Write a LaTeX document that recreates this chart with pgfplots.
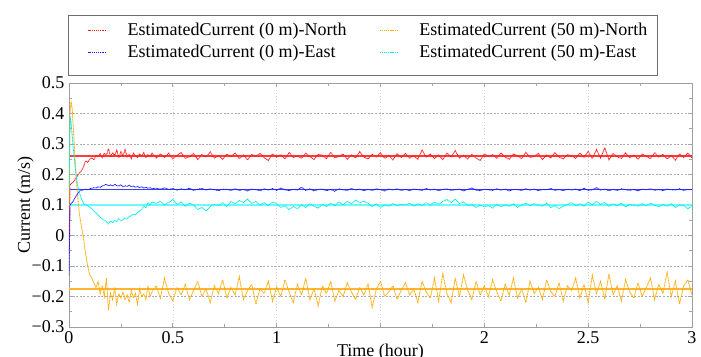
\documentclass[border=0pt]{standalone}
\usepackage{fontspec}
\setmainfont{Liberation Serif}
\usepackage{pgfplots}
\usepackage{pgfplotstable}
\pgfplotsset{compat=1.18}
\definecolor{estR}{RGB}{255,25,25}
\definecolor{estB}{RGB}{25,25,255}
\definecolor{estO}{RGB}{255,170,0}
\definecolor{estC}{RGB}{0,235,235}
\definecolor{truR}{RGB}{255,60,60}
\definecolor{truB}{RGB}{60,60,255}
\definecolor{truO}{RGB}{255,180,50}
\definecolor{truC}{RGB}{110,250,250}
\definecolor{frameG}{RGB}{110,110,110}
\pgfplotsset{
  legend image code/.code={\path (0pt,0pt) (22pt,0pt); \draw[#1, line width=0.9pt, dash pattern=on 0.8pt off 0.6pt] (7pt,0pt) -- (21pt,0pt);},
}

\pgfplotstableread{
x r b o c
0 -0.05 -0.13 0.10 0.15
0.005 0.165 0.10 0.40 0.39
0.01 0.170 0.105 0.44 0.37
0.015 0.172 0.108 0.42 0.33
0.02 0.175 0.112 0.36 0.29
0.03 0.185 0.125 0.24 0.22
0.04 0.195 0.135 0.14 0.17
0.05 0.205 0.145 0.07 0.14
0.06 0.212 0.148 0.03 0.12
0.07 0.225 0.150 -0.01 0.105
0.08 0.245 0.152 -0.06 0.100
0.09 0.240 0.150 -0.10 0.098
0.10 0.250 0.153 -0.13 0.092
0.11 0.255 0.155 -0.14 0.088
0.12 0.248 0.157 -0.155 0.080
0.13 0.262 0.156 -0.17 0.074
0.14 0.258 0.160 -0.15 0.068
0.15 0.268 0.158 -0.19 0.060
0.16 0.255 0.162 -0.165 0.055
0.17 0.270 0.165 -0.20 0.050
0.18 0.262 0.168 -0.14 0.045
0.19 0.285 0.163 -0.245 0.038
0.20 0.258 0.166 -0.19 0.048
0.21 0.272 0.162 -0.21 0.042
0.22 0.262 0.168 -0.17 0.050
0.23 0.280 0.164 -0.225 0.045
0.24 0.255 0.162 -0.19 0.055
0.25 0.275 0.166 -0.205 0.048
0.26 0.260 0.160 -0.185 0.052
0.27 0.282 0.163 -0.21 0.058
0.28 0.258 0.161 -0.195 0.055
0.29 0.266 0.165 -0.22 0.062
0.30 0.252 0.160 -0.18 0.065
0.31 0.270 0.162 -0.205 0.070
0.32 0.262 0.158 -0.19 0.068
0.33 0.256 0.161 -0.225 0.075
0.34 0.268 0.157 -0.175 0.080
0.35 0.260 0.160 -0.20 0.085
0.36 0.272 0.156 -0.19 0.098
0.37 0.255 0.158 -0.21 0.090
0.38 0.265 0.155 -0.165 0.108
0.39 0.258 0.157 -0.20 0.100
0.40 0.270 0.154 -0.185 0.110
0.42 0.254 0.155 -0.165 0.105
0.44 0.268 0.152 -0.205 0.112
0.46 0.256 0.156 -0.140 0.100
0.48 0.270 0.151 -0.190 0.108
0.50 0.251 0.154 -0.215 0.118
0.52 0.263 0.149 -0.170 0.102
0.54 0.272 0.153 -0.195 0.110
0.56 0.253 0.150 -0.160 0.096
0.58 0.258 0.155 -0.210 0.106
0.60 0.269 0.148 -0.180 0.100
0.62 0.249 0.152 -0.150 0.085
0.64 0.265 0.154 -0.200 0.092
0.66 0.257 0.149 -0.175 0.080
0.68 0.274 0.153 -0.220 0.095
0.70 0.254 0.150 -0.165 0.102
0.72 0.262 0.147 -0.190 0.098
0.74 0.250 0.152 -0.145 0.108
0.76 0.267 0.151 -0.205 0.095
0.78 0.259 0.148 -0.170 0.112
0.80 0.271 0.153 -0.195 0.104
0.82 0.252 0.148 -0.135 0.115
0.84 0.264 0.151 -0.210 0.108
0.86 0.248 0.146 -0.180 0.120
0.88 0.266 0.152 -0.160 0.105
0.90 0.260 0.150 -0.225 0.112
0.92 0.269 0.147 -0.175 0.100
0.94 0.255 0.153 -0.190 0.108
0.96 0.246 0.149 -0.150 0.098
0.98 0.268 0.154 -0.215 0.110
1.00 0.257 0.148 -0.170 0.104
1.02 0.265 0.156 -0.200 0.092
1.04 0.251 0.150 -0.145 0.098
1.06 0.272 0.147 -0.185 0.085
1.08 0.256 0.152 -0.220 0.095
1.10 0.261 0.149 -0.160 0.088
1.12 0.253 0.158 -0.195 0.100
1.14 0.270 0.148 -0.140 0.092
1.16 0.258 0.153 -0.210 0.104
1.18 0.249 0.146 -0.175 0.096
1.20 0.266 0.151 -0.230 0.090
1.22 0.263 0.152 -0.165 0.102
1.24 0.252 0.147 -0.190 0.095
1.26 0.273 0.151 -0.150 0.106
1.28 0.255 0.145 -0.215 0.098
1.30 0.259 0.153 -0.180 0.110
1.32 0.267 0.150 -0.200 0.100
1.34 0.250 0.148 -0.155 0.112
1.36 0.264 0.154 -0.185 0.104
1.38 0.254 0.149 -0.210 0.116
1.40 0.275 0.152 -0.170 0.108
1.42 0.257 0.147 -0.195 0.112
1.44 0.251 0.151 -0.160 0.106
1.46 0.266 0.148 -0.235 0.095
1.48 0.258 0.153 -0.175 0.104
1.50 0.271 0.150 -0.150 0.092
1.52 0.253 0.146 -0.200 0.100
1.54 0.262 0.152 -0.185 0.096
1.56 0.248 0.149 -0.165 0.105
1.58 0.268 0.153 -0.210 0.098
1.60 0.256 0.148 -0.180 0.102
1.62 0.269 0.151 -0.155 0.100
1.64 0.254 0.147 -0.195 0.106
1.66 0.261 0.152 -0.175 0.096
1.68 0.250 0.150 -0.220 0.104
1.70 0.280 0.148 -0.150 0.098
1.72 0.257 0.154 -0.185 0.108
1.74 0.267 0.149 -0.205 0.100
1.76 0.252 0.152 -0.140 0.110
1.78 0.264 0.147 -0.215 0.102
1.80 0.249 0.151 -0.125 0.112
1.82 0.270 0.153 -0.190 0.118
1.84 0.258 0.148 -0.220 0.108
1.86 0.278 0.150 -0.140 0.120
1.88 0.254 0.152 -0.200 0.104
1.90 0.263 0.146 -0.130 0.110
1.92 0.251 0.151 -0.180 0.098
1.94 0.266 0.156 -0.210 0.102
1.96 0.254 0.149 -0.150 0.092
1.98 0.246 0.147 -0.195 0.100
2.00 0.268 0.152 -0.165 0.094
2.02 0.259 0.150 -0.200 0.098
2.04 0.265 0.148 -0.145 0.090
2.06 0.253 0.153 -0.185 0.102
2.08 0.271 0.149 -0.215 0.094
2.10 0.257 0.152 -0.160 0.100
2.12 0.250 0.146 -0.195 0.096
2.14 0.267 0.151 -0.140 0.104
2.16 0.262 0.150 -0.205 0.092
2.18 0.252 0.148 -0.175 0.100
2.20 0.273 0.153 -0.220 0.106
2.22 0.256 0.149 -0.150 0.098
2.24 0.259 0.152 -0.190 0.104
2.26 0.269 0.147 -0.170 0.100
2.28 0.249 0.151 -0.210 0.096
2.30 0.264 0.150 -0.145 0.106
2.32 0.254 0.154 -0.185 0.092
2.34 0.272 0.148 -0.200 0.098
2.36 0.257 0.151 -0.155 0.088
2.38 0.251 0.147 -0.215 0.096
2.40 0.265 0.152 -0.165 0.102
2.42 0.262 0.149 -0.180 0.108
2.44 0.253 0.152 -0.140 0.098
2.46 0.270 0.147 -0.205 0.104
2.48 0.256 0.155 -0.160 0.096
2.50 0.276 0.148 -0.220 0.110
2.52 0.252 0.150 -0.130 0.100
2.54 0.282 0.157 -0.190 0.112
2.56 0.254 0.149 -0.150 0.102
2.58 0.288 0.152 -0.210 0.108
2.60 0.248 0.147 -0.125 0.096
2.62 0.269 0.151 -0.195 0.104
2.64 0.258 0.148 -0.165 0.098
2.66 0.253 0.153 -0.215 0.106
2.68 0.271 0.150 -0.145 0.094
2.70 0.255 0.148 -0.185 0.102
2.72 0.264 0.151 -0.205 0.100
2.74 0.250 0.146 -0.155 0.096
2.76 0.267 0.152 -0.200 0.104
2.78 0.259 0.150 -0.170 0.098
2.80 0.252 0.153 -0.140 0.106
2.82 0.272 0.148 -0.210 0.100
2.84 0.257 0.151 -0.160 0.094
2.86 0.266 0.147 -0.190 0.102
2.88 0.251 0.152 -0.120 0.096
2.90 0.262 0.150 -0.200 0.104
2.92 0.247 0.149 -0.150 0.092
2.94 0.268 0.153 -0.225 0.100
2.96 0.256 0.148 -0.165 0.098
2.98 0.270 0.151 -0.145 0.088
3.00 0.254 0.150 -0.195 0.096
}\data

\begin{document}
\begin{tikzpicture}
\path[use as bounding box] (-51.75pt,-22.5pt) rectangle (474pt,245.25pt);
\begin{axis}[
  scale only axis,
  width=467.25pt, height=183pt,
  xmin=0, xmax=3, ymin=-0.3, ymax=0.5,
  xtick={0,0.5,1,1.5,2,2.5,3},
  xticklabels={0,0.5,1,,2,2.5,3},
  ytick={-0.3,-0.2,-0.1,0,0.1,0.2,0.3,0.4,0.5},
  yticklabels={−0.3,−0.2,−0.1,0,0.1,0.2,0.3,0.4,0.5},
  minor x tick num=1, minor y tick num=1,
  tick align=inside,
  tick style={gray!70, line width=0.5pt},
  major tick length=3pt, minor tick length=2pt,
  axis line style={gray!75, line width=0.6pt},
  xmajorgrids, ymajorgrids,
  x grid style={gray!35, dotted, line width=0.4pt},
  y grid style={gray!65, dash pattern=on 1.5pt off 1.2pt, line width=0.4pt},
  ticklabel style={font=\fontsize{13.5}{15}\selectfont},
  /pgf/number format/assume math mode=true,
  xlabel={Time (hour)},
  ylabel={Current (m/s)},
  label style={font=\fontsize{13.5}{15}\selectfont},
  xlabel style={at={(axis description cs:0.5,0)}, anchor=base, yshift=-22pt},
  ylabel style={at={(axis description cs:0,0.5)}, anchor=south, yshift=23pt},
  extra description/.code={
    \draw[frameG, line width=0.6pt] (axis description cs:-0.0016,1.0328) rectangle (axis description cs:0.9438,1.2787);
  },
  legend columns=2,
  legend cell align=left,
  legend style={at={(axis description cs:-0.002,1.279)}, anchor=north west,
    yshift=9pt,
    draw=none, fill=none,
    font=\fontsize{13.5}{15}\selectfont,
    inner xsep=8pt, inner ysep=6pt, row sep=1.5pt,
    /tikz/every odd column/.append style={column sep=12pt},
    /tikz/every even column/.append style={column sep=16pt}},
]
\addlegendimage{empty legend}
\addlegendentry{}
\addlegendimage{empty legend}
\addlegendentry{}
\addplot[truR, line width=1.1pt, forget plot] coordinates {(0,0.26) (3,0.26)};
\addplot[truB, line width=1.1pt, forget plot] coordinates {(0,0.15) (3,0.15)};
\addplot[truC, line width=1.1pt, forget plot] coordinates {(0,0.10) (3,0.10)};
\addplot[truO, line width=1.1pt, forget plot] coordinates {(0,-0.175) (3,-0.175)};
\addplot[color=estR, line width=0.65pt, dash pattern=on 0.7pt off 0.4pt] table[x=x, y=r] {\data};
\addlegendentry{EstimatedCurrent (0 m)-North}
\addplot[color=estO, line width=0.65pt, dash pattern=on 0.7pt off 0.4pt] table[x=x, y=o] {\data};
\addlegendentry{EstimatedCurrent (50 m)-North}
\addplot[color=estB, line width=0.65pt, dash pattern=on 0.7pt off 0.4pt] table[x=x, y=b] {\data};
\addlegendentry{EstimatedCurrent (0 m)-East}
\addplot[color=estC, line width=0.65pt, dash pattern=on 0.7pt off 0.4pt] table[x=x, y=c] {\data};
\addlegendentry{EstimatedCurrent (50 m)-East}
\end{axis}
\end{tikzpicture}
\end{document}
